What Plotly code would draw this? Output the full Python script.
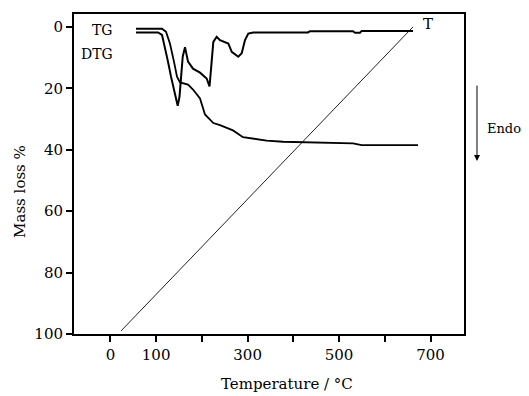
import plotly.graph_objects as go

# ---- data ----
tg_temp = [56, 112.8, 121.6, 130.3, 139.0, 145.6, 152.2, 169.7, 180.6, 195.9, 206.8,
           225.0, 239.6, 268.0, 289.9, 341.7, 377.3, 421.1, 480.1, 530.4, 549.4, 672.5]
tg_loss = [0.6, 0.6, 1.6, 5.5, 11.3, 16.2, 18.1, 18.8, 20.4, 23.3, 28.5,
           31.3, 32.0, 33.7, 35.9, 37.0, 37.4, 37.5, 37.8, 37.9, 38.5, 38.5]

dtg_temp = [56.0, 104.1, 112.8, 119.4, 125.9, 132.5, 139.0, 143.4, 147.1, 151.1, 154.4,
            158.1, 163.1, 169.7, 180.6, 195.9, 210.5, 216.7, 219.9, 221.5, 225.0, 232.4,
            239.6, 257.8, 265.2, 279.6, 287.1, 294.3, 301.5, 312.4, 432.0, 436.4, 530.4,
            534.8, 545.7, 549.4, 661.6]
dtg_val = [1.8, 1.8, 2.6, 6.5, 11.3, 16.2, 20.4, 23.3, 25.7, 22.7, 16.2,
           9.7, 6.6, 11.3, 13.6, 14.9, 16.8, 19.4, 13.9, 10.7, 4.9, 3.2,
           4.3, 5.4, 8.1, 9.7, 8.6, 4.3, 2.2, 1.8, 1.8, 1.4, 1.4,
           1.9, 1.9, 1.3, 1.3]

t_line_x = [23.2, 661.6]
t_line_y = [99.0, 0.0]

x_tick_vals = [0, 100, 200, 300, 400, 500, 600, 700]
x_tick_text = ["0", "100", "", "300", "", "500", "", "700"]
y_tick_vals = [0, 20, 40, 60, 80, 100]
y_tick_text = ["0", "20", "40", "60", "80", "100"]

FONT = "DejaVu Serif"

fig = go.Figure()
fig.add_trace(go.Scatter(x=t_line_x, y=t_line_y, mode="lines",
                         line=dict(color="#222222", width=1), name="T"))
fig.add_trace(go.Scatter(x=tg_temp, y=tg_loss, mode="lines",
                         line=dict(color="black", width=1.8), name="TG"))
fig.add_trace(go.Scatter(x=dtg_temp, y=dtg_val, mode="lines",
                         line=dict(color="black", width=2), name="DTG"))

axis_common = dict(showline=True, linecolor="black", linewidth=2, mirror=True,
                   ticks="outside", ticklen=6, tickwidth=2, tickcolor="black",
                   showgrid=False, zeroline=False,
                   tickfont=dict(family=FONT, size=15, color="black"))

fig.update_xaxes(range=[-79.6, 773.1], tickmode="array", tickvals=x_tick_vals,
                 ticktext=x_tick_text, **axis_common)
fig.update_yaxes(range=[100, -4.2], tickmode="array", tickvals=y_tick_vals,
                 ticktext=y_tick_text, **axis_common)

ann = []
def txt(t, x, y, xa="center", size=15, angle=0):
    ann.append(dict(text=t, x=x, y=y, xref="paper", yref="paper", showarrow=False,
                    xanchor=xa, yanchor="middle", textangle=angle,
                    font=dict(family=FONT, size=size, color="black")))

txt("TG", 0.1051, 0.9503, "right", 14)
txt("DTG", 0.1051, 0.8758, "right", 14)
txt("T", 0.8897, 0.9689, "left", 15)
txt("Endo", 1.0538, 0.6413, "left", 13)
txt("Temperature / °C", 0.5462, -0.1553, "center", 15)
txt("Mass loss %", -0.1385, 0.4472, "center", 15, -90)

ann.append(dict(x=1.0333, y=0.5404, xref="paper", yref="paper", text="",
                showarrow=True, ax=0, ay=-77, axref="pixel", ayref="pixel",
                arrowhead=2, arrowsize=1.2, arrowwidth=1, arrowcolor="black"))

# the page body adds an 8px offset, so the figure is shrunk and margins shifted
# to keep the plot area where it is in the reference
fig.update_layout(width=521, height=388, margin=dict(l=66, r=65, t=4, b=62),
                  plot_bgcolor="white", paper_bgcolor="white", showlegend=False,
                  annotations=ann)

fig.write_html("out.html")
